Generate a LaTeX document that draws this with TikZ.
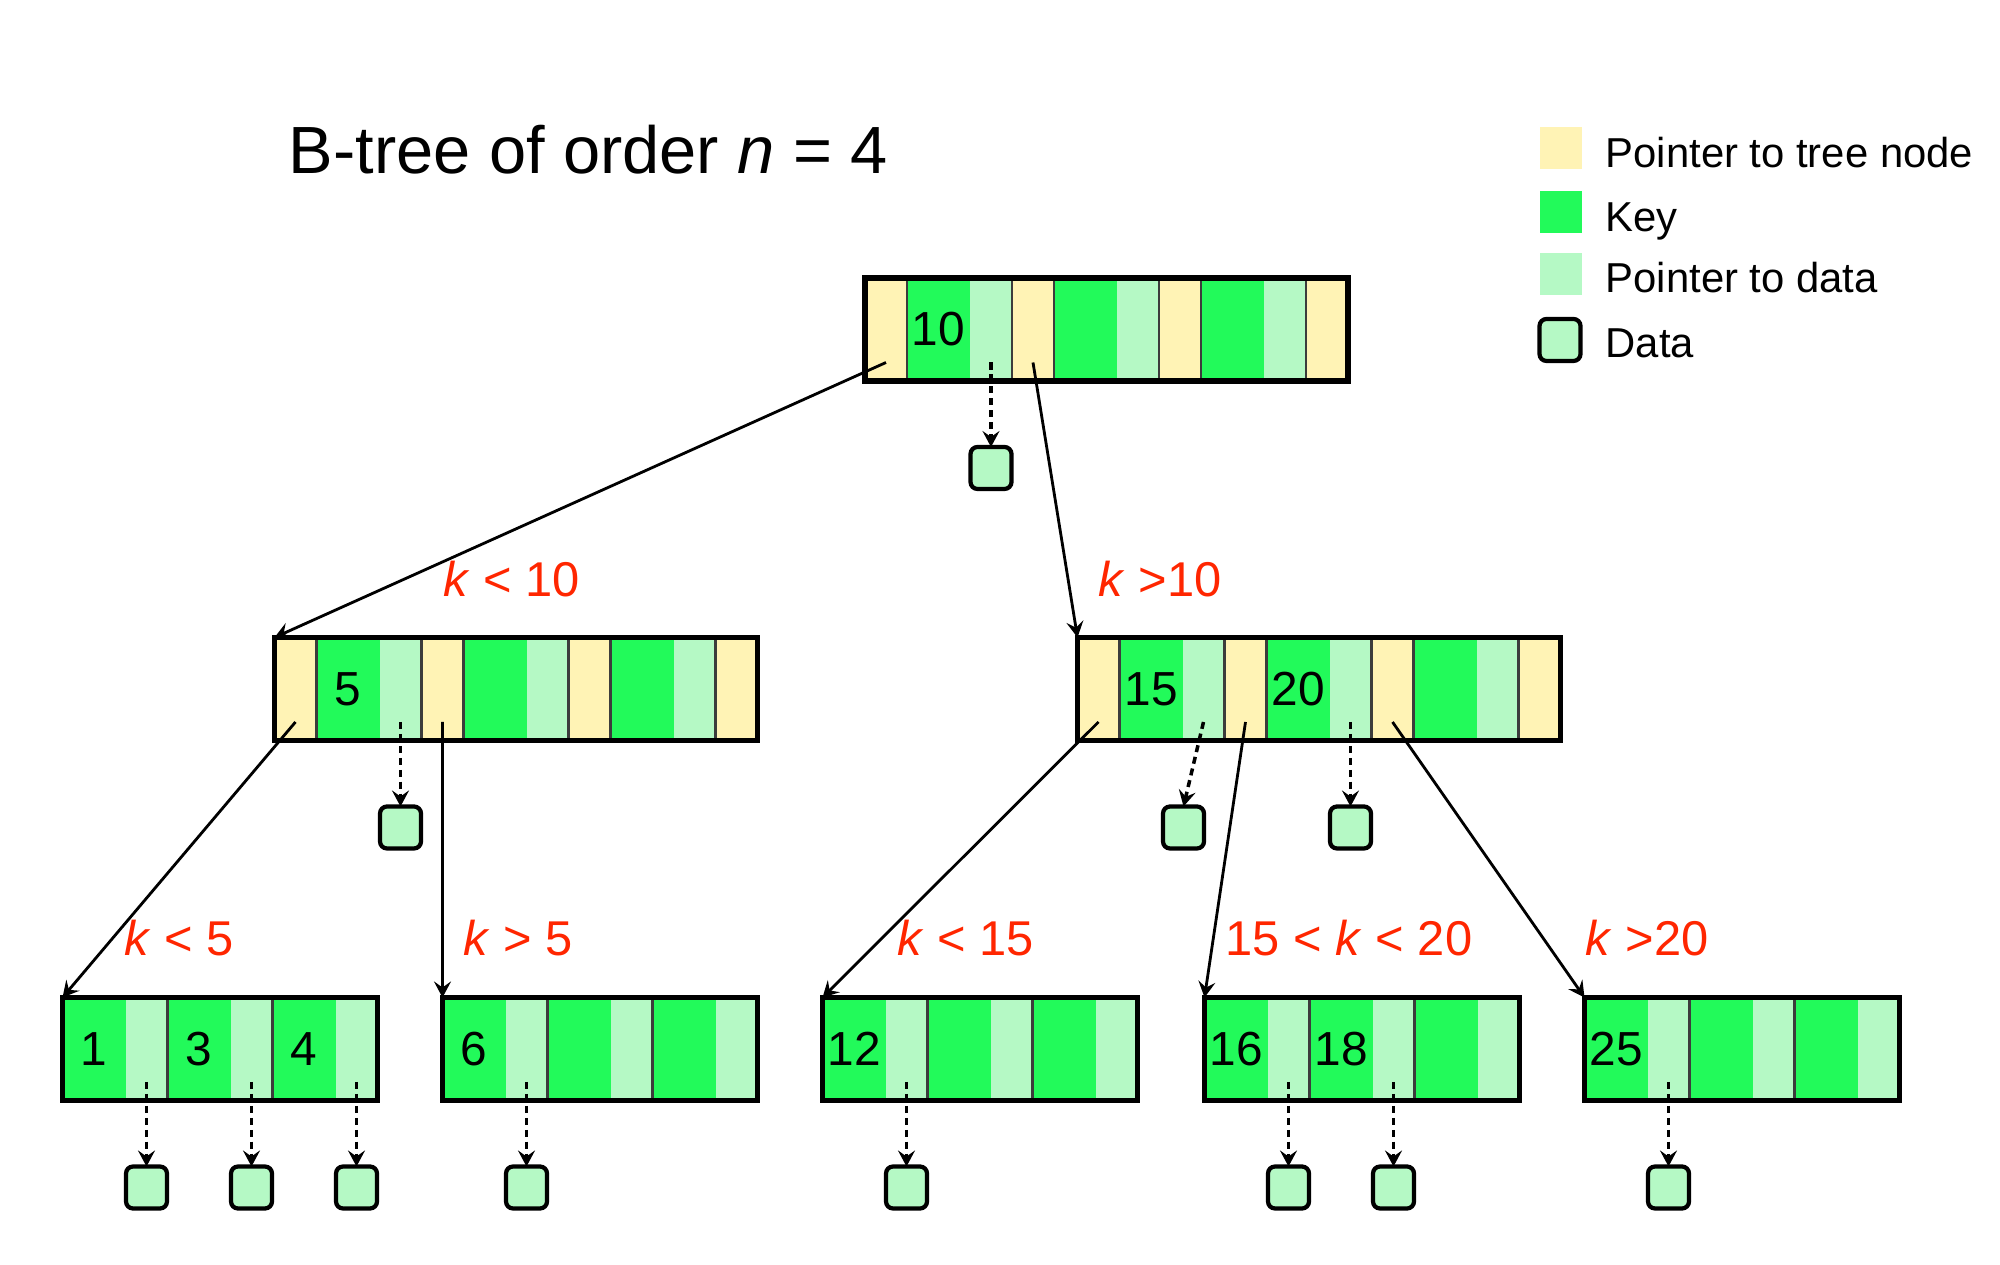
\documentclass[tikz,border=0pt]{standalone}
\usepackage{fontspec}
\setmainfont{Liberation Sans}
\usetikzlibrary{arrows.meta,positioning,calc}
\definecolor{ptrY}{RGB}{255,243,181}
\definecolor{keyG}{RGB}{34,250,90}
\definecolor{datG}{RGB}{181,249,197}
\definecolor{lblR}{RGB}{255,38,0}
\definecolor{sepC}{RGB}{60,60,60}
\tikzset{
 cellbase/.style={minimum height=1.03cm, inner sep=0pt, outer sep=0pt, anchor=west, font=\fontsize{13.6}{15}\selectfont},
 pcell/.style={cellbase, fill=ptrY, minimum width=0.42cm},
 kcell/.style={cellbase, fill=keyG, minimum width=0.63cm},
 dcell/.style={cellbase, fill=datG, minimum width=0.42cm},
 sepline/.style={draw=sepC, line width=0.7pt},
 frameline/.style={draw=black, line width=1.5pt},
 databox/.style={draw=black, fill=datG, line width=1.2pt, rounded corners=0.07cm, minimum width=0.41cm, minimum height=0.42cm, inner sep=0pt, outer sep=0pt},
 treearrow/.style={draw=black, line width=0.8pt, -{Stealth[length=1.6mm,width=1.7mm,inset=0.6mm]}},
 dataarrow/.style={draw=black, line width=1pt, dash pattern=on 2pt off 1.4pt, -{Stealth[length=1.6mm,width=1.7mm,inset=0.6mm]}},
 cond/.style={text=lblR, anchor=base west, inner sep=0pt, font=\fontsize{13.9}{16}\selectfont},
 legtext/.style={anchor=base west, inner sep=0pt, font=\fontsize{11.9}{14}\selectfont},
 legsq/.style={minimum size=0.42cm, inner sep=0pt},
}
\newcommand\innode[6]{%
 \node[pcell] (#1-p0) at (#2,#3) {};
 \node[kcell] (#1-k1) at (#1-p0.east) {#4};
 \node[dcell] (#1-d1) at (#1-k1.east) {};
 \node[pcell] (#1-p1) at (#1-d1.east) {};
 \node[kcell] (#1-k2) at (#1-p1.east) {#5};
 \node[dcell] (#1-d2) at (#1-k2.east) {};
 \node[pcell] (#1-p2) at (#1-d2.east) {};
 \node[kcell] (#1-k3) at (#1-p2.east) {#6};
 \node[dcell] (#1-d3) at (#1-k3.east) {};
 \node[pcell] (#1-p3) at (#1-d3.east) {};
 \foreach \c in {p0,p1,p2}{\draw[sepline] (#1-\c.north east) -- (#1-\c.south east);}
 \foreach \c in {p1,p2,p3}{\draw[sepline] (#1-\c.north west) -- (#1-\c.south west);}
 \draw[frameline] (#1-p0.north west) rectangle (#1-p3.south east);
}
\newcommand\leafnode[6]{%
 \node[kcell] (#1-k1) at (#2,#3) {#4};
 \node[dcell] (#1-d1) at (#1-k1.east) {};
 \node[kcell] (#1-k2) at (#1-d1.east) {#5};
 \node[dcell] (#1-d2) at (#1-k2.east) {};
 \node[kcell] (#1-k3) at (#1-d2.east) {#6};
 \node[dcell] (#1-d3) at (#1-k3.east) {};
 \draw[sepline] (#1-d1.north east) -- (#1-d1.south east);
 \draw[sepline] (#1-d2.north east) -- (#1-d2.south east);
 \draw[frameline] (#1-k1.north west) rectangle (#1-d3.south east);
}
\begin{document}
\begin{tikzpicture}
\path[use as bounding box, fill=white] (0,0) rectangle (20,12.64);

% title
\node[anchor=base west, inner sep=0pt, font=\fontsize{19}{22}\selectfont] (title) at (2.88,10.90) {B-tree of order \textit{n} = 4};

% legend
\node[legsq, fill=ptrY] (lg1) at (15.61,11.155) {};
\node[legsq, fill=keyG] (lg2) at (15.61,10.515) {};
\node[legsq, fill=datG] (lg3) at (15.61,9.90) {};
\node[databox] (lg4) at (15.60,9.24) {};
\node[legtext] (lt1) at (16.05,10.96) {Pointer to tree node};
\node[legtext] (lt2) at (16.05,10.32) {Key};
\node[legtext] (lt3) at (16.05,9.71) {Pointer to data};
\node[legtext] (lt4) at (16.05,9.06) {Data};

% tree nodes
\innode{root}{8.65}{9.345}{10}{}{}
\innode{lm}{2.745}{5.75}{5}{}{}
\innode{rm}{10.775}{5.75}{15}{20}{}
\leafnode{la}{0.625}{2.15}{1}{3}{4}
\leafnode{lb}{4.425}{2.15}{6}{}{}
\leafnode{lc}{8.225}{2.15}{12}{}{}
\leafnode{ld}{12.045}{2.15}{16}{18}{}
\leafnode{le}{15.845}{2.15}{25}{}{}

% data boxes
\node[databox, below=0.66cm of root-d1] (root-x1) {};
\node[databox, below=0.66cm of lm-d1] (lm-x1) {};
\node[databox, below=0.66cm of rm-d1, xshift=-0.2cm] (rm-x1) {};
\node[databox, below=0.66cm of rm-d2] (rm-x2) {};
\node[databox, below=0.66cm of la-d1] (la-x1) {};
\node[databox, below=0.66cm of la-d2] (la-x2) {};
\node[databox, below=0.66cm of la-d3] (la-x3) {};
\node[databox, below=0.66cm of lb-d1] (lb-x1) {};
\node[databox, below=0.66cm of lc-d1] (lc-x1) {};
\node[databox, below=0.66cm of ld-d1] (ld-x1) {};
\node[databox, below=0.66cm of ld-d2] (ld-x2) {};
\node[databox, below=0.66cm of le-d1] (le-x1) {};

% data arrows
\foreach \n/\d/\x in {root/d1/x1, lm/d1/x1, rm/d1/x1, rm/d2/x2, la/d1/x1, la/d2/x2, la/d3/x3, lb/d1/x1, lc/d1/x1, ld/d1/x1, ld/d2/x2, le/d1/x1}{
  \draw[dataarrow] ($(\n-\d.south)+(0,0.185)$) -- (\n-\x.north);
}

% tree arrows
\draw[treearrow] ($(root-p0.south)+(0,0.185)$) -- (lm-p0.north west);
\draw[treearrow] ($(root-p1.south)+(0,0.185)$) -- (rm-p0.north west);
\draw[treearrow] ($(lm-p0.south)+(0,0.185)$) -- (la-k1.north west);
\draw[treearrow] ($(lm-p1.south)+(0,0.185)$) -- (lb-k1.north west);
\draw[treearrow] ($(rm-p0.south)+(0,0.185)$) -- (lc-k1.north west);
\draw[treearrow] ($(rm-p1.south)+(0,0.185)$) -- (ld-k1.north west);
\draw[treearrow] ($(rm-p2.south)+(0,0.185)$) -- (le-k1.north west);

% condition labels
\node[cond] (c1) at (4.43,6.67) {\textit{k} < 10};
\node[cond] (c2) at (10.98,6.67) {\textit{k} >10};
\node[cond] (c3) at (1.24,3.08) {\textit{k} < 5};
\node[cond] (c4) at (4.63,3.08) {\textit{k} > 5};
\node[cond] (c5) at (8.97,3.08) {\textit{k} < 15};
\node[cond] (c6) at (12.25,3.08) {15 < \textit{k} < 20};
\node[cond] (c7) at (15.85,3.08) {\textit{k} >20};
\end{tikzpicture}
\end{document}
